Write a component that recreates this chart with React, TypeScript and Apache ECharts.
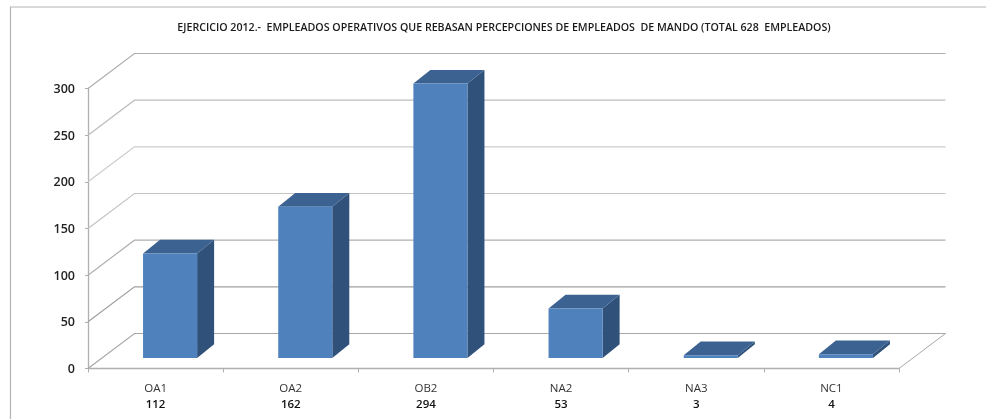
import React, { useEffect, useRef } from "react";
import * as echarts from "echarts";

const TITLE = "EJERCICIO 2012.-  EMPLEADOS OPERATIVOS QUE REBASAN PERCEPCIONES DE EMPLEADOS  DE MANDO (TOTAL 628  EMPLEADOS)";
const categories = ["OA1", "OA2", "OB2", "NA2", "NA3", "NC1"];
const values = [112, 162, 294, 53, 3, 4];
const wallTicks = [0, 50, 100, 150, 200, 250, 300];
const wallColors = ["#a8a8a8", "#a0a0a0", "#b0b0b0", "#c4c4c4", "#cccccc", "#bdbdbd", "#aeaeae"];

const DEPTH_X = 46.5;
const DEPTH_Y = -35;
const BAR_DX = 17;
const BAR_DY = -13.7;
const BAR_SHIFT_X = 14.5;
const BAR_SHIFT_Y = -10.5;
const FONT = "'Open Sans', 'Noto Sans', sans-serif";

export default function App() {
  const ref = useRef<HTMLDivElement>(null);
  useEffect(() => {
    const chart = echarts.init(ref.current!, undefined, { renderer: "svg" });
    chart.setOption({
      animation: false,
      backgroundColor: "#ffffff",
      title: {
        text: TITLE,
        left: 499,
        top: 16,
        textAlign: "center",
        textStyle: { fontFamily: FONT, fontSize: 10.65, fontWeight: 600, color: "#1a1a1a" },
      },
      graphic: [
        {
          type: "rect",
          silent: true,
          z: -10,
          shape: { x: 10.5, y: 7, width: 1100, height: 600 },
          style: { fill: "none", stroke: "#b4b4b4", lineWidth: 1.2 },
        },
      ],
      grid: { left: 88, right: 87, top: 88.5, bottom: 50.5 },
      xAxis: {
        type: "category",
        data: categories.map((c, i) => `{a|${c}}\n{b|${values[i]}}`),
        axisLine: { show: true, lineStyle: { color: "#b0b0b0", width: 1.3 } },
        axisTick: { show: true, length: 4, lineStyle: { color: "#b0b0b0" } },
        axisLabel: {
          margin: 11,
          interval: 0,
          rich: {
            a: { fontFamily: FONT, fontSize: 11.5, color: "#333333", lineHeight: 16, fontWeight: 500 },
            b: { fontFamily: FONT, fontSize: 11.5, color: "#111111", lineHeight: 16, fontWeight: 600 },
          },
        },
      },
      yAxis: {
        type: "value",
        min: 0,
        max: 300,
        interval: 50,
        splitLine: { show: false },
        axisLine: { show: true, lineStyle: { color: "#b0b0b0", width: 1.3 } },
        axisTick: { show: true, length: 3, lineStyle: { color: "#b0b0b0" } },
        axisLabel: {
          margin: 13,
          fontFamily: FONT,
          fontSize: 12.5,
          fontWeight: 600,
          color: "#222222",
        },
      },
      series: [
        {
          type: "custom",
          name: "walls",
          silent: true,
          clip: false,
          z: 1,
          data: wallTicks.map((t, i) => [0, t, i]),
          renderItem: (params: any, api: any) => {
            const y = api.coord([0, api.value(1)])[1];
            const i = api.value(2);
            const r = params.coordSys;
            const xl = r.x;
            const xr = r.x + r.width;
            const stroke = { stroke: wallColors[i], lineWidth: 1.2, fill: "none" };
            const children: any[] = [
              {
                type: "polyline",
                shape: { points: [[xl, y], [xl + DEPTH_X, y + DEPTH_Y], [xr + DEPTH_X, y + DEPTH_Y]] },
                style: stroke,
              },
            ];
            if (i === 0) {
              children.push({
                type: "line",
                shape: { x1: xr, y1: y, x2: xr + DEPTH_X, y2: y + DEPTH_Y },
                style: { stroke: wallColors[i], lineWidth: 1 },
              });
            }
            return { type: "group", children };
          },
        },
        {
          type: "custom",
          name: "Empleados",
          clip: false,
          z: 2,
          data: values.map((v, i) => [i, v]),
          renderItem: (_params: any, api: any) => {
            const top = api.coord([api.value(0), api.value(1)]);
            const base = api.coord([api.value(0), 0]);
            const w = api.size([1, 0])[0] * 0.4;
            const x0 = top[0] + BAR_SHIFT_X - w / 2;
            const x1 = x0 + w;
            const yT = top[1] + BAR_SHIFT_Y;
            const yB = base[1] + BAR_SHIFT_Y;
            return {
              type: "group",
              children: [
                {
                  type: "polygon",
                  shape: { points: [[x1, yB], [x1 + BAR_DX, yB + BAR_DY], [x1 + BAR_DX, yT + BAR_DY], [x1, yT]] },
                  style: { fill: "#30517A" },
                },
                {
                  type: "polygon",
                  shape: { points: [[x0, yT], [x0 + BAR_DX, yT + BAR_DY], [x1 + BAR_DX, yT + BAR_DY], [x1, yT]] },
                  style: { fill: "#3B6291" },
                },
                {
                  type: "rect",
                  shape: { x: x0, y: yT, width: w, height: yB - yT },
                  style: { fill: "#4F81BD" },
                },
              ],
            };
          },
        },
      ],
    });
    return () => chart.dispose();
  }, []);
  return (
    <div
      ref={ref}
      style={{ position: "absolute", left: 0, top: 0, width: 986, height: 419, overflow: "hidden", filter: "blur(0.35px)" }}
    />
  );
}
